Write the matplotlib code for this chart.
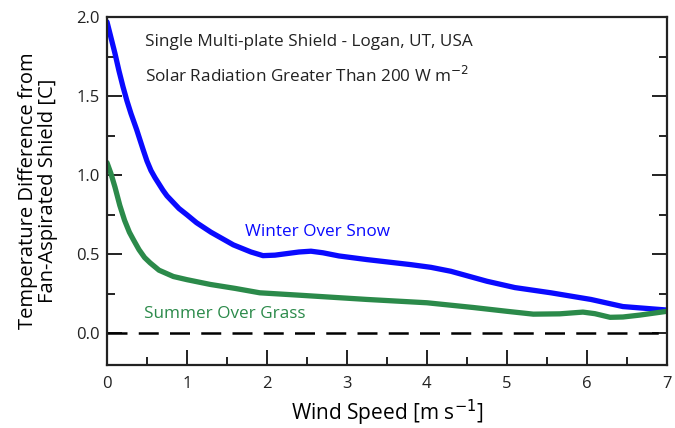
import matplotlib
matplotlib.use("Agg")
import matplotlib.pyplot as plt
from matplotlib.ticker import MultipleLocator, FormatStrFormatter

plt.rcParams['font.family'] = ['Open Sans', 'DejaVu Sans']

winter_x = [0.0, 0.05, 0.1, 0.15, 0.2, 0.25, 0.3, 0.37, 0.45, 0.5, 0.55, 0.6, 0.65, 0.7, 0.75, 0.9, 1.0, 1.12, 1.3, 1.58, 1.8,
            1.95, 2.1, 2.25, 2.4, 2.55, 2.7, 2.9, 3.25, 3.8, 4.05, 4.3, 4.75, 5.1, 5.55, 6.05, 6.45, 7.0]
winter_y = [1.97, 1.87, 1.77, 1.66, 1.56, 1.47, 1.39, 1.29, 1.165, 1.09, 1.03, 0.985, 0.945, 0.905, 0.87, 0.79, 0.75, 0.70, 0.64, 0.56, 0.515,
            0.492, 0.495, 0.505, 0.515, 0.52, 0.51, 0.49, 0.467, 0.435, 0.418, 0.393, 0.33, 0.29, 0.257, 0.215, 0.17, 0.148]

summer_x = [0.0, 0.05, 0.1, 0.16, 0.22, 0.28, 0.33, 0.4, 0.47, 0.54, 0.65, 0.83, 1.0, 1.29, 1.6, 1.91, 2.4, 2.62, 3.25,
            4.0, 4.58, 5.0, 5.33, 5.66, 5.95, 6.1, 6.29, 6.45, 6.66, 7.0]
summer_y = [1.08, 1.01, 0.925, 0.81, 0.715, 0.64, 0.593, 0.53, 0.48, 0.446, 0.40, 0.36, 0.34, 0.31, 0.285, 0.257, 0.242, 0.235, 0.215,
            0.194, 0.164, 0.14, 0.122, 0.124, 0.135, 0.125, 0.102, 0.104, 0.116, 0.14]

fig = plt.figure(figsize=(6.75, 4.28), dpi=100)
ax = fig.add_axes([0.1585, 0.147, 0.8295, 0.813])

ax.plot(winter_x, winter_y, color='#0a0aff', lw=3.8, solid_capstyle='round', solid_joinstyle='round')
ax.plot(summer_x, summer_y, color='#2b8a4a', lw=3.8, solid_capstyle='round', solid_joinstyle='round')
ax.axhline(0, color='black', lw=1.8, dashes=(8, 4.5))

ax.set_xlim(0, 7)
ax.set_ylim(-0.2, 2.0)
ax.xaxis.set_major_locator(MultipleLocator(1))
ax.xaxis.set_minor_locator(MultipleLocator(0.5))
ax.yaxis.set_major_locator(MultipleLocator(0.5))
ax.yaxis.set_minor_locator(MultipleLocator(0.25))
ax.yaxis.set_major_formatter(FormatStrFormatter('%.1f'))

ax.tick_params(axis='both', which='both', direction='in', top=False, right=True, width=1.4,
               labelsize=12, colors='#222222')
ax.tick_params(axis='both', which='major', length=11, pad=8)
ax.tick_params(axis='both', which='minor', length=5.5)
ax.tick_params(axis='y', which='major', pad=5)
for s in ax.spines.values():
    s.set_linewidth(1.6)
    s.set_color('#222222')

ax.set_xlabel('Wind Speed [m s$^{-1}$]', fontsize=15, labelpad=4)
ax.set_ylabel('Temperature Difference from\nFan-Aspirated Shield [C]', fontsize=14.5, labelpad=13, linespacing=1.05)

ax.text(0.475, 1.84, 'Single Multi-plate Shield - Logan, UT, USA', fontsize=12.3, va='center', color='#222222')
ax.text(0.475, 1.63, 'Solar Radiation Greater Than 200 W m$^{-2}$', fontsize=12.3, va='center', color='#222222')
ax.text(1.72, 0.64, 'Winter Over Snow', fontsize=12.3, va='center', color='#0a0aff')
ax.text(0.46, 0.125, 'Summer Over Grass', fontsize=12.3, va='center', color='#2b8a4a')

fig.savefig('out.png', dpi=100)
